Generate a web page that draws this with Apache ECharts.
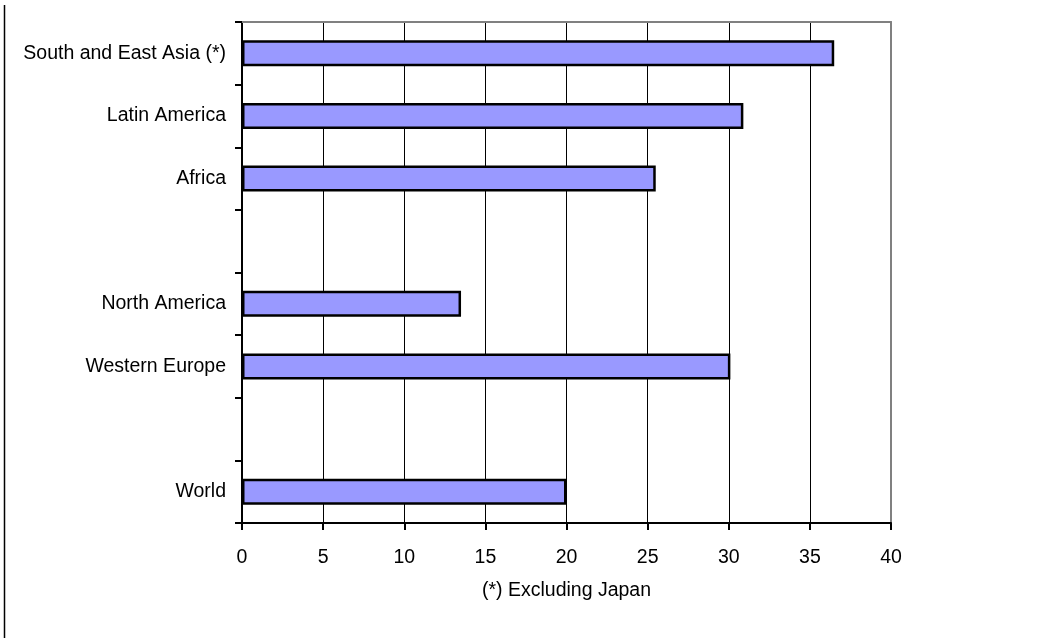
<!DOCTYPE html>
<html>
<head>
<meta charset="utf-8">
<title>Regional shares</title>
<script src="https://cdn.jsdelivr.net/npm/echarts@6/dist/echarts.min.js"></script>
<style>
  html, body { margin: 0; padding: 0; background: #fff; }
  #chart { width: 1055px; height: 638px; }
</style>
</head>
<body>
<div id="chart"></div>
<script>
// Regions listed bottom to top; blank entries leave empty rows between groups
const regions = ['World', '', 'Western Europe', 'North America', ' ', 'Africa', 'Latin America', 'South and East Asia (*)'];
const shares = [20.0, null, 30.1, 13.5, null, 25.5, 30.9, 36.5];
const xMin = 0;
const xMax = 40;
const xStep = 5;
const footnote = '(*) Excluding Japan';

const FONT = '"Liberation Sans", Arial, sans-serif';
const FONT_SIZE = 19.5;
const chart = echarts.init(document.getElementById('chart'), null, { renderer: 'canvas' });

chart.setOption({
  animation: false,
  backgroundColor: '#fff',
  grid: { left: 242, right: 164, top: 22, bottom: 115, containLabel: false },
  graphic: [{
    type: 'line',
    shape: { x1: 4.5, y1: 5, x2: 4.5, y2: 638 },
    style: { stroke: '#000', lineWidth: 1.5 }
  }],
  xAxis: [{
    type: 'value',
    position: 'bottom',
    min: xMin,
    max: xMax,
    interval: xStep,
    axisLine: { show: true, lineStyle: { color: '#000', width: 2 } },
    axisTick: { show: true, inside: false, length: 7, lineStyle: { color: '#000', width: 2 } },
    axisLabel: { color: '#000', fontSize: FONT_SIZE, fontFamily: FONT, margin: 25 },
    splitLine: { show: true, showMinLine: false, showMaxLine: false, lineStyle: { color: '#000', width: 1 } },
    name: footnote,
    nameLocation: 'middle',
    nameGap: 58,
    nameTextStyle: { color: '#000', fontSize: FONT_SIZE, fontFamily: FONT }
  }, {
    type: 'value',
    position: 'top',
    min: xMin,
    max: xMax,
    interval: xStep,
    axisLine: { show: true, onZero: false, lineStyle: { color: '#808080', width: 2 } },
    axisTick: { show: false },
    axisLabel: { show: false },
    splitLine: { show: false }
  }],
  yAxis: [{
    type: 'category',
    position: 'left',
    data: regions,
    axisLine: { show: true, onZero: false, lineStyle: { color: '#000', width: 2 } },
    axisTick: { show: true, inside: false, length: 7, lineStyle: { color: '#000', width: 2 } },
    axisLabel: { color: '#000', fontSize: FONT_SIZE, fontFamily: FONT, margin: 16, interval: 0 },
    splitLine: { show: false }
  }, {
    type: 'category',
    position: 'right',
    data: regions,
    axisLine: { show: true, onZero: false, lineStyle: { color: '#808080', width: 2 } },
    axisTick: { show: false },
    axisLabel: { show: false },
    splitLine: { show: false }
  }],
  series: [{
    type: 'bar',
    xAxisIndex: 0,
    yAxisIndex: 0,
    data: shares,
    barWidth: 26,
    itemStyle: { color: '#9999FF', borderColor: '#000', borderWidth: 2.5 },
    z: 3
  }]
});
</script>
</body>
</html>
